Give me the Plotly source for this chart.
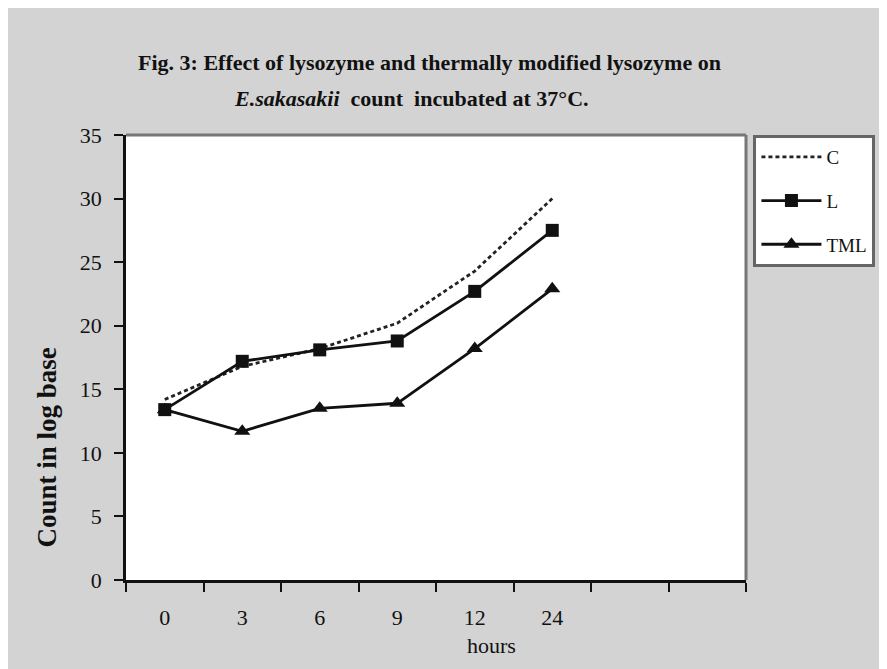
import plotly.graph_objects as go

hours = ["0", "3", "6", "9", "12", "24"]
c_values = [14.2, 16.8, 18.2, 20.2, 24.3, 30.0]
l_values = [13.4, 17.2, 18.1, 18.8, 22.7, 27.5]
tml_values = [13.4, 11.7, 13.5, 13.9, 18.2, 22.9]
y_ticks = [0, 5, 10, 15, 20, 25, 30, 35]

xpos = list(range(len(hours)))
SERIF = "Liberation Serif, DejaVu Serif, serif"

fig = go.Figure()
fig.add_trace(go.Scatter(x=xpos, y=c_values, name="C", mode="lines",
                         line=dict(color="#222", width=2.8, dash="4px,3px"),
                         legendgroup="c"))
fig.add_trace(go.Scatter(x=xpos, y=l_values, name="L", mode="lines+markers",
                         line=dict(color="#111", width=2.8),
                         marker=dict(symbol="square", size=13, color="#111"),
                         legendgroup="l"))
fig.add_trace(go.Scatter(x=xpos, y=tml_values, name="TML", mode="lines+markers",
                         line=dict(color="#111", width=2.8),
                         marker=dict(symbol="triangle-up", size=14, color="#111"),
                         legendgroup="t"))

fig.update_layout(
    width=887, height=669,
    margin=dict(l=118, r=149, t=127, b=97),
    paper_bgcolor="#d3d3d3",
    plot_bgcolor="white",
    font=dict(family=SERIF, color="#111", size=21),
    showlegend=True,
    legend=dict(x=1.012, xanchor="left", y=1.0, yanchor="top",
                bgcolor="white", bordercolor="#666", borderwidth=3,
                font=dict(size=19, family=SERIF), tracegroupgap=16,
                itemwidth=60),
    xaxis=dict(range=[-0.5, 7.5], tickvals=xpos, ticktext=hours,
               ticks="", showgrid=False, zeroline=False,
               showline=True, linecolor="#111", linewidth=2.5,
               ticklabelstandoff=16,
               tickfont=dict(size=22, family=SERIF),
               minor=dict(tick0=-0.5, dtick=1, ticks="outside", ticklen=9,
                          tickwidth=2, tickcolor="#111", showgrid=False)),
    yaxis=dict(range=[0, 35], tickvals=y_ticks, ticks="outside", ticklen=9,
               tickwidth=2, tickcolor="#111", showgrid=False, zeroline=False,
               showline=True, linecolor="#111", linewidth=2.5,
               ticklabelstandoff=8,
               tickfont=dict(size=22, family=SERIF)),
    shapes=[
        dict(type="line", xref="paper", yref="paper", x0=0, x1=1, y0=1, y1=1,
             line=dict(color="#777", width=3)),
        dict(type="line", xref="paper", yref="paper", x0=1, x1=1, y0=0, y1=1,
             line=dict(color="#777", width=3)),
    ],
    annotations=[
        dict(text="<b>Fig. 3: Effect of lysozyme and thermally modified lysozyme on</b>",
             xref="paper", yref="paper", x=0.49, y=1.164, xanchor="center",
             yanchor="middle", showarrow=False, font=dict(size=22, family=SERIF)),
        dict(text="<b><i>E.sakasakii</i>  count  incubated at 37°C.</b>",
             xref="paper", yref="paper", x=0.46, y=1.083, xanchor="center",
             yanchor="middle", showarrow=False, font=dict(size=22, family=SERIF)),
        dict(text="<b>Count in log base</b>", textangle=-90,
             xref="paper", yref="paper", x=-0.128, y=0.297, xanchor="center",
             yanchor="middle", showarrow=False, font=dict(size=27, family=SERIF)),
        dict(text="hours", xref="paper", yref="paper", x=0.589, y=-0.148,
             xanchor="center", yanchor="middle", showarrow=False,
             font=dict(size=22, family=SERIF)),
    ],
)

fig.write_html("out.html")
